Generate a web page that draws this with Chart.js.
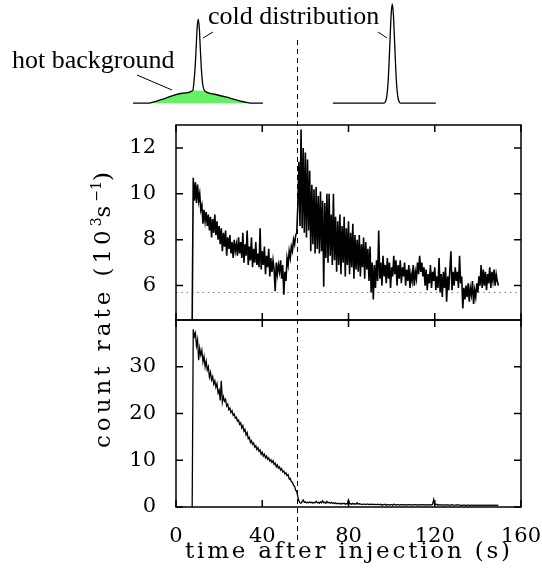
<!DOCTYPE html>
<html>
<head>
<meta charset="utf-8">
<title>count rate after injection</title>
<script src="https://cdn.jsdelivr.net/npm/chart.js"></script>
<style>
  body { margin: 0; background: #fff; }
  #wrap { position: relative; width: 542px; height: 582px; }
  #wrap canvas { position: absolute; left: 0; top: 0; }
</style>
</head>
<body>
<div id="wrap">
  <canvas id="rateChart" width="542" height="582"></canvas>
  <canvas id="sketchChart" width="542" height="125"></canvas>
</div>
<script>
// sampling of both traces: first bin and bin width (s)
var t0 = 7.5;
var dt = 0.5;
var injectionTime = 56.3;
var backgroundLevel = 5.7;

// upper panel, count rate (10^3 s^-1)
var upperRate = [
  4.5, 10.7, 9.7, 10.5, 9.6, 10.4, 9.7, 10.0, 9.3, 9.5,
  8.7, 9.3, 8.8, 9.2, 8.6, 9.1, 8.4, 9.0, 8.1, 8.9,
  8.3, 9.1, 8.2, 8.8, 8.0, 8.6, 7.8, 8.5, 7.5, 8.3,
  7.7, 8.4, 7.3, 8.1, 7.6, 8.2, 7.4, 7.9, 7.2, 8.0,
  7.5, 7.8, 7.3, 8.1, 7.4, 7.9, 7.2, 8.3, 7.0, 7.8,
  7.3, 8.4, 6.9, 7.7, 7.1, 8.1, 6.8, 7.6, 7.0, 7.9,
  6.9, 7.4, 6.8, 8.5, 6.7, 7.5, 6.9, 7.7, 6.5, 7.3,
  6.8, 7.6, 6.4, 7.2, 6.6, 7.1, 6.7, 5.75, 7.0, 6.5,
  6.9, 6.6, 7.1, 6.3, 6.9, 5.6, 6.6, 6.2, 7.2, 6.9,
  7.5, 7.2, 7.7, 7.5, 8.0, 7.8, 8.2, 8.3, 9.5, 11.4,
  8.6, 12.8, 8.5, 12.0, 8.3, 11.8, 8.1, 11.5, 8.4, 11.0,
  7.5, 10.4, 7.8, 10.2, 7.4, 10.3, 7.6, 9.9, 7.4, 10.1,
  7.5, 9.7, 5.95, 9.6, 7.2, 10.0, 7.0, 10.0, 7.3, 9.1,
  6.9, 10.0, 7.1, 9.0, 6.6, 8.8, 6.9, 9.1, 6.5, 8.6,
  7.0, 9.0, 6.4, 8.5, 6.9, 8.8, 6.5, 8.3, 6.8, 8.7,
  6.3, 8.2, 6.7, 8.0, 6.6, 8.2, 6.4, 7.8, 6.8, 8.1,
  6.3, 7.9, 6.7, 7.6, 6.2, 7.7, 5.7, 7.0, 5.4, 6.9,
  5.9, 7.1, 6.2, 8.4, 6.3, 7.0, 6.0, 7.3, 6.4, 6.9,
  6.1, 7.2, 6.3, 7.0, 5.9, 6.8, 6.4, 7.3, 6.5, 7.1,
  6.0, 6.9, 6.3, 7.1, 6.1, 6.8, 6.4, 7.0, 6.0, 6.7,
  6.2, 6.9, 5.9, 6.5, 6.2, 6.9, 6.0, 6.6, 6.3, 7.0,
  6.5, 7.3, 6.6, 7.0, 6.4, 6.8, 6.0, 6.7, 5.8, 6.5,
  6.1, 6.9, 5.9, 6.6, 6.2, 6.8, 5.8, 6.4, 5.9, 7.2,
  5.7, 6.5, 5.5, 6.6, 5.9, 6.8, 5.3, 6.4, 5.8, 6.7,
  7.5, 5.8, 6.6, 6.0, 6.8, 6.2, 6.6, 5.9, 7.3, 6.1,
  6.4, 5.0, 5.9, 5.4, 6.0, 5.5, 6.1, 5.3, 5.9, 5.6,
  6.2, 5.2, 5.8, 5.5, 6.1, 5.7, 6.4, 6.0, 6.9, 5.9,
  6.7, 6.0, 6.6, 5.8, 6.5, 6.1, 6.8, 5.9, 6.6, 6.2,
  6.7, 6.0, 6.5, 6.2, 6.0
];

// lower panel, count rate (10^3 s^-1)
var lowerRate = [
  0, 38.0, 36.5, 37.2, 34.5, 35.8, 31.4, 34.0, 32.5, 33.5,
  31.0, 32.2, 30.0, 31.2, 29.3, 30.0, 27.8, 28.8, 27.2, 27.9,
  26.3, 27.0, 25.6, 26.4, 24.4, 25.0, 22.8, 27.0, 22.4, 23.6,
  22.6, 23.0, 21.6, 22.0, 20.8, 21.2, 20.2, 20.6, 19.6, 19.9,
  19.0, 19.2, 18.4, 18.6, 17.7, 18.0, 16.9, 17.4, 16.2, 16.6,
  15.4, 15.9, 14.6, 14.9, 13.8, 14.2, 13.4, 13.7, 12.8, 13.1,
  12.3, 12.7, 11.9, 12.2, 11.3, 11.7, 10.9, 11.3, 10.5, 10.9,
  10.2, 10.5, 9.8, 10.1, 9.5, 9.9, 9.1, 9.4, 8.6, 9.0,
  8.3, 8.6, 7.9, 8.2, 7.5, 7.7, 7.1, 7.3, 6.7, 6.9,
  6.0, 6.1, 5.4, 5.3, 4.6, 4.4, 3.6, 3.3, 2.2, 1.3,
  0.9, 0.8, 1.2, 1.5, 1.0, 1.1, 0.9, 1.0, 0.9, 1.1,
  0.9, 1.0, 0.8, 1.0, 0.9, 1.2, 0.9, 1.0, 0.8, 1.1,
  0.9, 1.3, 0.9, 1.0, 0.8, 1.2, 0.9, 1.0, 0.8, 1.0,
  0.8, 0.9, 0.7, 0.9, 0.7, 0.8, 0.7, 0.8, 0.6, 0.8,
  0.7, 0.8, 0.6, 0.7, 0.7, 1.5, 0.7, 0.7, 0.6, 0.8,
  0.6, 0.7, 0.6, 0.9, 0.6, 0.7, 0.6, 0.6, 0.5, 0.6,
  0.6, 0.5, 0.6, 0.6, 0.5, 0.6, 0.5, 0.6, 0.5, 0.6,
  0.5, 0.5, 0.6, 0.5, 0.5, 0.6, 0.4, 0.5, 0.5, 0.6,
  0.4, 0.5, 0.5, 0.4, 0.5, 0.5, 0.4, 0.6, 0.5, 0.4,
  0.5, 0.5, 0.4, 0.5, 0.5, 0.4, 0.5, 0.5, 0.4, 0.5,
  0.4, 0.5, 0.5, 0.4, 0.5, 0.4, 0.5, 0.5, 0.4, 0.5,
  0.4, 0.5, 0.4, 0.5, 0.5, 0.4, 0.5, 0.4, 0.5, 0.4,
  0.5, 0.4, 0.5, 0.5, 1.6, 0.6, 0.5, 0.6, 0.4, 0.5,
  0.4, 0.5, 0.4, 0.4, 0.5, 0.4, 0.4, 0.5, 0.4, 0.4,
  0.4, 0.5, 0.4, 0.4, 0.4, 0.4, 0.5, 0.4, 0.4, 0.4,
  0.3, 0.4, 0.4, 0.4, 0.3, 0.4, 0.4, 0.4, 0.3, 0.4,
  0.4, 0.3, 0.4, 0.4, 0.3, 0.4, 0.4, 0.3, 0.4, 0.4,
  0.3, 0.4, 0.4, 0.3, 0.4, 0.4, 0.3, 0.4, 0.4, 0.3,
  0.4, 0.4, 0.3, 0.4, 0.4
];

var xTicks = [0, 40, 80, 120, 160];
var upperTicks = [6, 8, 10, 12];
var lowerTicks = [0, 10, 20, 30];

// sketch of the ion energy distributions (drawn on the time axis, relative height)
var hotX = [-13.4, -7, -1.85, 3, 7.9, 10.3, 12.5, 18, 23.6, 28, 33.4];
var hotY = [0, 0.035, 0.074, 0.1, 0.127, 0.129, 0.124, 0.09, 0.06, 0.033, 0.005];
var beforeX = [-19.9, -13.4, -7, -1.85, 3, 7.8, 8.3, 8.8, 9.3, 9.8, 10.3, 10.8, 11.3, 11.8, 12.3, 12.8, 13.5, 18, 23.6, 28, 33.4, 35, 40.3];
var beforeY = [0, 0, 0.035, 0.074, 0.1, 0.127, 0.21, 0.337, 0.538, 0.758, 0.848, 0.758, 0.538, 0.335, 0.205, 0.147, 0.12, 0.09, 0.06, 0.033, 0.005, 0, 0];
var afterX = [72.75, 96.5, 97.3, 97.8, 98.3, 98.8, 99.3, 99.8, 100.3, 100.8, 101.3, 101.8, 102.3, 102.8, 103.3, 104.1, 120.5];
var afterY = [0, 0, 0.024, 0.076, 0.19, 0.4, 0.66, 0.9, 1, 0.9, 0.66, 0.4, 0.19, 0.076, 0.024, 0, 0];

function series(values) {
  return values.map(function (v, i) { return { x: t0 + i * dt, y: v }; });
}
function pairs(xs, ys) {
  return xs.map(function (x, i) { return { x: x, y: ys[i] }; });
}

// draws text with the letters spread out to a given length (typewriter look)
function drawSpaced(ctx, parts, x, y, width) {
  var chars = [];
  parts.forEach(function (p) {
    ctx.font = p[1] + 'px "DejaVu Serif"';
    p[0].split('').forEach(function (c) {
      chars.push({ c: c, size: p[1], rise: p[2], w: ctx.measureText(c).width });
    });
  });
  var natural = 0, gaps = 0;
  chars.forEach(function (ch, i) {
    natural += ch.w;
    if (i < chars.length - 1 && ch.rise === 0) gaps++;
  });
  var gap = (width - natural) / gaps;
  var cx = x;
  chars.forEach(function (ch) {
    ctx.font = ch.size + 'px "DejaVu Serif"';
    ctx.fillText(ch.c, cx, y - ch.rise);
    cx += ch.w + (ch.rise === 0 ? gap : 0);
  });
}

var TICK = 7;

var framePlugin = {
  id: 'frame',
  afterDraw: function (chart) {
    var ctx = chart.ctx;
    var x = chart.scales.x;
    ctx.save();
    ctx.strokeStyle = '#000';
    ctx.lineWidth = 1.5;
    [[chart.scales.upper, upperTicks], [chart.scales.lower, lowerTicks]].forEach(function (p) {
      var y = p[0];
      ctx.strokeRect(x.left, y.top, x.right - x.left, y.bottom - y.top);
      ctx.beginPath();
      xTicks.forEach(function (v) {
        var px = x.getPixelForValue(v);
        ctx.moveTo(px, y.top); ctx.lineTo(px, y.top + TICK);
        ctx.moveTo(px, y.bottom); ctx.lineTo(px, y.bottom - TICK);
      });
      p[1].forEach(function (v) {
        var py = y.getPixelForValue(v);
        ctx.moveTo(x.left, py); ctx.lineTo(x.left + TICK, py);
        ctx.moveTo(x.right, py); ctx.lineTo(x.right - TICK, py);
      });
      ctx.stroke();
    });

    // injection marker, runs up through the sketch
    var ix = Math.round(x.getPixelForValue(injectionTime)) + 0.5;
    ctx.lineWidth = 1;
    ctx.setLineDash([5, 4]);
    ctx.beginPath();
    ctx.moveTo(ix, 40);
    ctx.lineTo(ix, 543);
    ctx.stroke();
    ctx.setLineDash([]);

    // axis titles
    ctx.fillStyle = '#000';
    ctx.textBaseline = 'alphabetic';
    drawSpaced(ctx, [['time after injection (s)', 23, 0]], 185, 558, 325);
    ctx.translate(110, 448);
    ctx.rotate(-Math.PI / 2);
    drawSpaced(ctx, [['count rate (10', 23, 0], ['3', 14, 9], ['s', 23, 0], ['\u22121', 14, 9], [')', 23, 0]], 0, 0, 276);
    ctx.restore();
  }
};

Chart.defaults.font.family = '"DejaVu Serif"';
Chart.defaults.color = '#000';

var tickFont = { size: 21 };

var rateChart = new Chart(document.getElementById('rateChart'), {
  type: 'line',
  data: {
    datasets: [
      {
        data: series(upperRate), yAxisID: 'upper',
        borderColor: '#000', borderWidth: 1.6, pointRadius: 0, tension: 0, fill: false
      },
      {
        data: series(lowerRate), yAxisID: 'lower',
        borderColor: '#000', borderWidth: 1.3, pointRadius: 0, tension: 0, fill: false
      },
      {
        data: [{ x: 0, y: backgroundLevel }, { x: 160, y: backgroundLevel }], yAxisID: 'upper',
        borderColor: '#777', borderWidth: 1, borderDash: [1.5, 3.8], pointRadius: 0, fill: false
      }
    ]
  },
  options: {
    responsive: false,
    animation: false,
    layout: { padding: { left: 116, right: 21, top: 125, bottom: 0 } },
    plugins: { legend: { display: false }, tooltip: { enabled: false } },
    scales: {
      x: {
        type: 'linear', min: 0, max: 160,
        grid: { display: false, drawTicks: false }, border: { display: false },
        ticks: { font: tickFont, padding: 17, maxRotation: 0, autoSkip: false },
        afterBuildTicks: function (s) { s.ticks = xTicks.map(function (v) { return { value: v }; }); },
        afterFit: function (s) { s.height = 75; s.paddingLeft = 0; s.paddingRight = 0; }
      },
      // stacked axes are placed bottom-up, so the lower panel comes first
      lower: {
        type: 'linear', position: 'left', stack: 'panels', stackWeight: 187,
        min: 0, max: 40,
        grid: { display: false, drawTicks: false }, border: { display: false },
        ticks: { font: tickFont, padding: 20 },
        afterBuildTicks: function (s) { s.ticks = lowerTicks.map(function (v) { return { value: v }; }); },
        afterFit: function (s) { s.width = 60; }
      },
      upper: {
        type: 'linear', position: 'left', stack: 'panels', stackWeight: 195,
        min: 4.5, max: 13,
        grid: { display: false, drawTicks: false }, border: { display: false },
        ticks: { font: tickFont, padding: 20 },
        afterBuildTicks: function (s) { s.ticks = upperTicks.map(function (v) { return { value: v }; }); },
        afterFit: function (s) { s.width = 60; }
      }
    }
  },
  plugins: [framePlugin]
});

var sketchLabels = {
  id: 'sketchLabels',
  afterDraw: function (chart) {
    var ctx = chart.ctx;
    ctx.save();
    ctx.fillStyle = '#000';
    ctx.strokeStyle = '#000';
    ctx.font = '26px "Liberation Serif"';
    ctx.fillText('cold distribution', 208, 24);
    ctx.fillText('hot background', 12, 68);
    ctx.lineWidth = 1;
    ctx.beginPath();
    ctx.moveTo(137, 75); ctx.lineTo(172, 90);
    ctx.moveTo(213, 32); ctx.lineTo(203, 38);
    ctx.moveTo(378, 32); ctx.lineTo(387, 38);
    ctx.stroke();
    ctx.restore();
  }
};

var timeScale = rateChart.scales.x;

new Chart(document.getElementById('sketchChart'), {
  type: 'line',
  data: {
    datasets: [
      {
        data: pairs(hotX, hotY), fill: 'origin', backgroundColor: '#66f066',
        borderWidth: 0, pointRadius: 0, cubicInterpolationMode: 'monotone', order: 2
      },
      {
        data: pairs(beforeX, beforeY), fill: false, borderColor: '#000',
        borderWidth: 1.3, pointRadius: 0, cubicInterpolationMode: 'monotone', order: 1
      },
      {
        data: pairs(afterX, afterY), fill: false, borderColor: '#000',
        borderWidth: 1.3, pointRadius: 0, cubicInterpolationMode: 'monotone', order: 1
      }
    ]
  },
  options: {
    responsive: false,
    animation: false,
    layout: { padding: 0 },
    plugins: { legend: { display: false }, tooltip: { enabled: false } },
    scales: {
      x: { type: 'linear', display: false, min: timeScale.getValueForPixel(0), max: timeScale.getValueForPixel(542) },
      y: { type: 'linear', display: false, min: -0.22, max: 1.04 }
    }
  },
  plugins: [sketchLabels]
});
</script>
</body>
</html>
